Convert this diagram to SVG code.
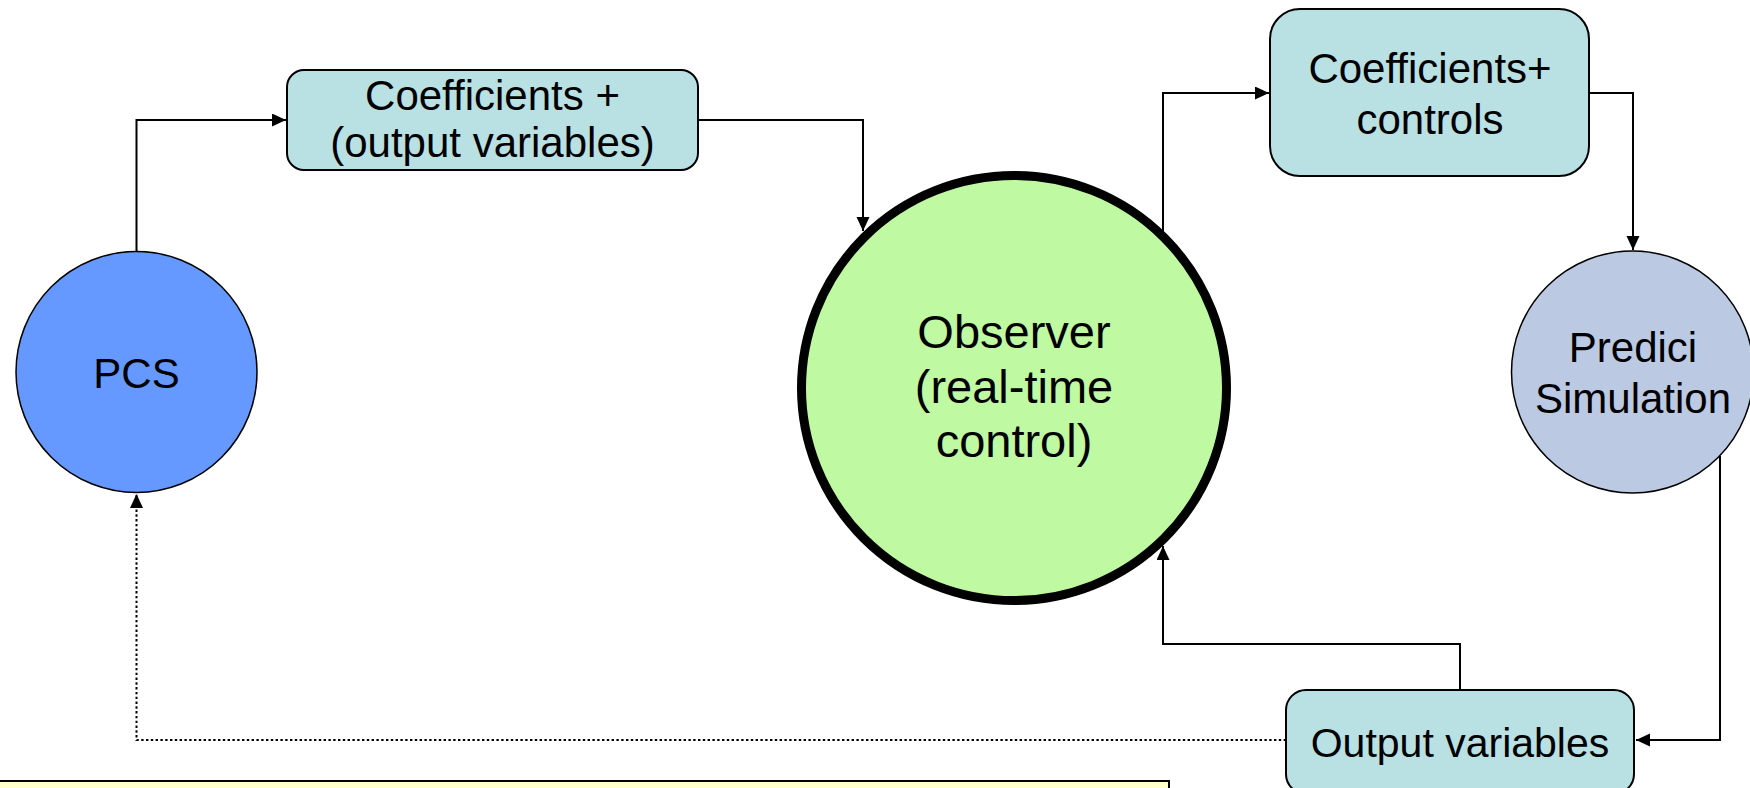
<svg xmlns="http://www.w3.org/2000/svg" width="1750" height="788" viewBox="0 0 1750 788">
  <style>
    .lbl { font-family: "Liberation Sans", Arial, sans-serif; font-size: 42px; fill: #000; text-anchor: middle; }
    .box { fill: #B9E0E3; stroke: #000; stroke-width: 2; }
    .wire { fill: none; stroke: #000; stroke-width: 2; }
    .dots { fill: none; stroke: #000; stroke-width: 2; stroke-dasharray: 2.4 2.4; }
  </style>
  <defs>
    <marker id="arrow" markerUnits="userSpaceOnUse" markerWidth="15" markerHeight="14" refX="14" refY="6.5" orient="auto">
      <path d="M0,0 L14,6.5 L0,13 Z" fill="#000"/>
    </marker>
  </defs>

  <rect width="1750" height="788" fill="#FFFFFF"/>

  <!-- connectors -->
  <g id="connectors">
    <path class="wire" d="M136.5,252 V120 H286" marker-end="url(#arrow)"/>
    <path class="wire" d="M698,120 H863 V231" marker-end="url(#arrow)"/>
    <path class="wire" d="M1163,231 V93 H1269" marker-end="url(#arrow)"/>
    <path class="wire" d="M1589,93 H1633 V250" marker-end="url(#arrow)"/>
    <path class="wire" d="M1720,456 V740 H1636" marker-end="url(#arrow)"/>
    <path class="wire" d="M1460,690 V644 H1163 V546" marker-end="url(#arrow)"/>
    <path class="dots" d="M1286,740 H136.5 V494" marker-end="url(#arrow)"/>
  </g>

  <g id="pcs">
    <circle cx="136.5" cy="372" r="120.5" fill="#6699FF" stroke="#000" stroke-width="1.5"/>
    <text class="lbl" x="136.5" y="388">PCS</text>
  </g>

  <g id="coeff-output">
    <rect class="box" x="287" y="70" width="411" height="100" rx="17"/>
    <text class="lbl" x="492.5" y="110">Coefficients +</text>
    <text class="lbl" x="492.5" y="157">(output variables)</text>
  </g>

  <g id="observer">
    <circle cx="1014" cy="388" r="212.5" fill="#BFF9A1" stroke="#000" stroke-width="9"/>
    <text class="lbl" x="1014" y="348" style="font-size:47px">Observer</text>
    <text class="lbl" x="1014" y="403" style="font-size:47px">(real-time</text>
    <text class="lbl" x="1014" y="457" style="font-size:47px">control)</text>
  </g>

  <g id="coeff-controls">
    <rect class="box" x="1270" y="9" width="319" height="167" rx="30"/>
    <text class="lbl" x="1430" y="83">Coefficients+</text>
    <text class="lbl" x="1430" y="134">controls</text>
  </g>

  <g id="predici">
    <circle cx="1632.5" cy="372" r="121" fill="#BBC9E3" stroke="#000" stroke-width="1.5"/>
    <text class="lbl" x="1633" y="362">Predici</text>
    <text class="lbl" x="1633" y="413">Simulation</text>
  </g>

  <g id="output-vars">
    <rect class="box" x="1286" y="690" width="348" height="104" rx="20"/>
    <text class="lbl" x="1460" y="757" style="font-size:41px">Output variables</text>
  </g>

  <g id="note">
    <rect x="-4" y="781" width="1173" height="30" fill="#FFFFCC" stroke="#000" stroke-width="2"/>
  </g>
</svg>
